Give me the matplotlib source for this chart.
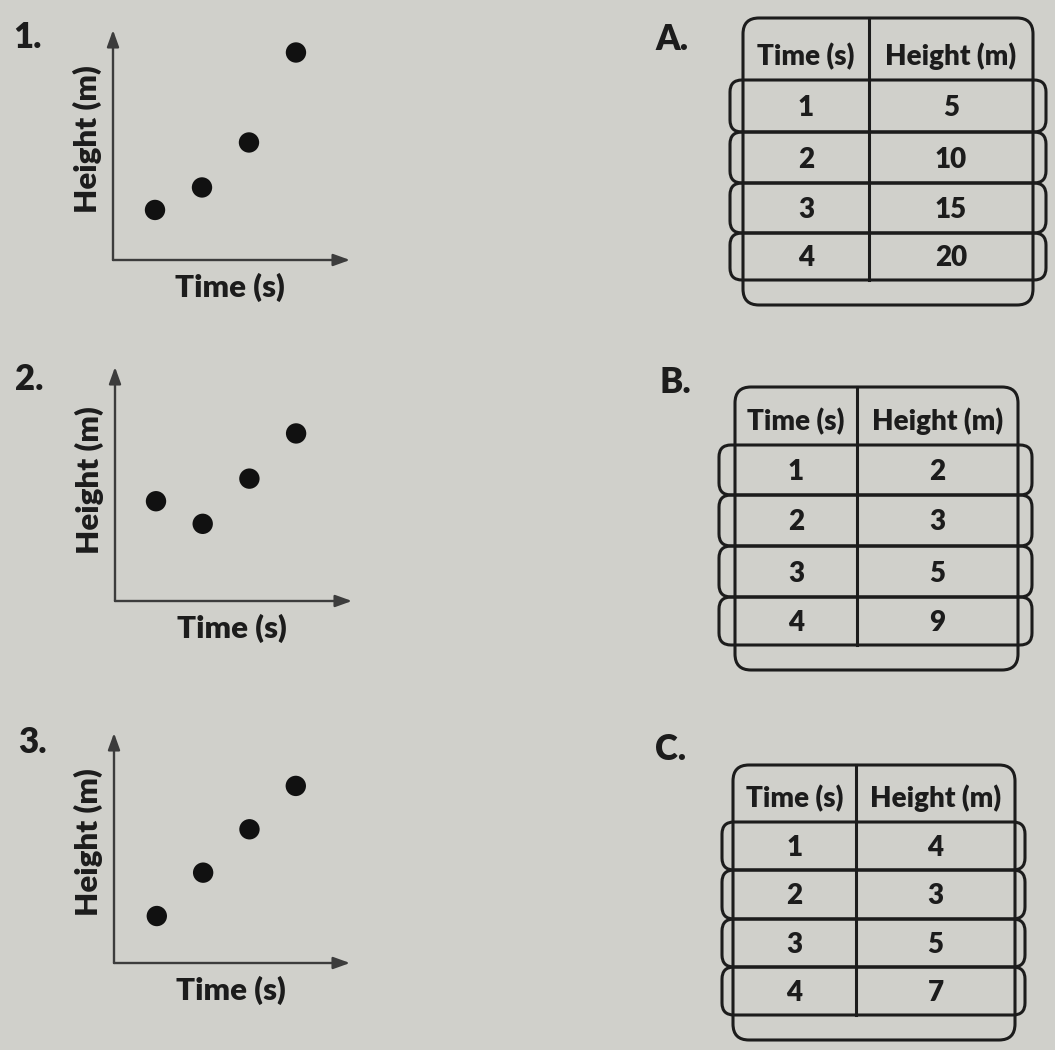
"""Matching exercise: three scatter graphs and three time/height tables."""

import matplotlib

matplotlib.use("Agg")
import matplotlib.pyplot as plt
from matplotlib.patches import FancyBboxPatch

W, H = 1055, 1050

# graphs (left column)
graph_labels = ["1.", "2.", "3."]
times = [1, 2, 3, 4]
graph1_heights = [2, 3, 5, 9]
graph2_heights = [4, 3, 5, 7]
graph3_heights = [5, 10, 15, 20]
x_label = "Time (s)"
y_label = "Height (m)"

# tables (right column)
table_labels = ["A.", "B.", "C."]
table_header = ["Time (s)", "Height (m)"]
table_times = [1, 2, 3, 4]
table_a_heights = [5, 10, 15, 20]
table_b_heights = [2, 3, 5, 9]
table_c_heights = [4, 3, 5, 7]

INK = "#1c1c1c"
AXIS_INK = "#3c3c3c"
PAPER = "#d0d0cb"
FONT = "Lato"
WEIGHT = "heavy"

# pixel frame (axis x, arrow top y, arrow end x, axis y), xlim, ylim, label baseline
GRAPH_FRAMES = [
    ((113, 30, 350, 260), (0.106, 5.15), (-0.225, 10.0), (13, 48)),
    ((115, 367, 352, 601), (0.122, 5.197), (-0.415, 9.94), (15, 390)),
    ((114, 733, 350, 963), (0.076, 5.17), (-0.415, 26.1), (18, 753)),
]

# outer box (l, t, r, b), divider x, row lines, pill x range, label baseline
TABLE_FRAMES = [
    ((743, 18, 1033, 305), 869, [80, 132, 183, 233, 280], (730, 1046), (655, 50)),
    ((735, 387, 1018, 670), 857, [445, 495, 546, 597, 645], (719, 1032), (660, 393)),
    ((733, 765, 1015, 1040), 856, [822, 870, 919, 967, 1015], (722, 1025), (655, 760)),
]


def main() -> None:
    fig = plt.figure(figsize=(W / 100, H / 100), dpi=100, facecolor=PAPER)
    page = fig.add_axes([0, 0, 1, 1])
    page.set_xlim(0, W)
    page.set_ylim(H, 0)
    page.axis("off")

    graph_heights = [graph1_heights, graph2_heights, graph3_heights]
    for label, heights, frame in zip(graph_labels, graph_heights, GRAPH_FRAMES):
        _draw_graph(fig, page, label, heights, frame)

    table_heights = [table_a_heights, table_b_heights, table_c_heights]
    for label, heights, frame in zip(table_labels, table_heights, TABLE_FRAMES):
        _draw_table(page, label, heights, frame)

    fig.savefig("out.png", dpi=100, facecolor=PAPER)
    plt.close(fig)


def _draw_graph(fig, page, label, heights, frame) -> None:
    (ax_x, top_y, end_x, origin_y), xlim, ylim, (lx, ly) = frame
    rect = [ax_x / W, 1 - origin_y / H, (end_x - ax_x) / W, (origin_y - top_y) / H]
    ax = fig.add_axes(rect)
    ax.set_xlim(*xlim)
    ax.set_ylim(*ylim)
    ax.patch.set_alpha(0)
    for spine in ax.spines.values():
        spine.set_visible(False)
    ax.set_xticks([])
    ax.set_yticks([])

    arrow = dict(
        arrowstyle="-|>,head_length=0.5,head_width=0.18",
        lw=1.7,
        color=AXIS_INK,
        shrinkA=0,
        shrinkB=0,
        mutation_scale=20,
    )
    ax.annotate("", xy=(0, 1), xytext=(0, 0), xycoords="axes fraction", arrowprops=arrow)
    ax.annotate("", xy=(1, 0), xytext=(0, 0), xycoords="axes fraction", arrowprops=arrow)

    ax.scatter(times, heights, s=215, color="#111111", edgecolors="none", clip_on=False, zorder=3)

    page.text(lx, ly, label, fontsize=25, fontweight=WEIGHT, family=FONT, color=INK, va="baseline")
    page.text(ax_x + 117, origin_y + 37, x_label, fontsize=22.5, fontweight=WEIGHT,
              family=FONT, color=INK, ha="center", va="baseline")
    page.text(ax_x - 26, origin_y - 121, y_label, fontsize=22.5, fontweight=WEIGHT,
              family=FONT, color=INK, ha="center", va="center", rotation=90)


def _draw_table(page, label, heights, frame) -> None:
    (l, t, r, b), div, rows, (pl, pr), (lx, ly) = frame
    line = dict(fill=False, lw=2.2, edgecolor=INK)

    page.add_patch(FancyBboxPatch((l, t), r - l, b - t,
                                  boxstyle="round,pad=0,rounding_size=16", **line))
    for top, bottom in zip(rows[:-1], rows[1:]):
        page.add_patch(FancyBboxPatch((pl, top), pr - pl, bottom - top,
                                      boxstyle="round,pad=0,rounding_size=12", **line))
    page.plot([div, div], [t, rows[-1]], color=INK, lw=2.2)

    col_x = [(l + div) / 2, (div + r) / 2]
    for x, text in zip(col_x, table_header):
        page.text(x, rows[0] - 15, text, fontsize=20, fontweight=WEIGHT, family=FONT,
                  color=INK, ha="center", va="baseline")
    for top, bottom, time, height in zip(rows[:-1], rows[1:], table_times, heights):
        y = (top + bottom) / 2 + 10
        page.text(col_x[0], y, str(time), fontsize=20, fontweight=WEIGHT, family=FONT,
                  color=INK, ha="center", va="baseline")
        page.text(col_x[1], y, str(height), fontsize=20, fontweight=WEIGHT, family=FONT,
                  color=INK, ha="center", va="baseline")

    page.text(lx, ly, label, fontsize=25, fontweight=WEIGHT, family=FONT, color=INK, va="baseline")


if __name__ == "__main__":
    main()
